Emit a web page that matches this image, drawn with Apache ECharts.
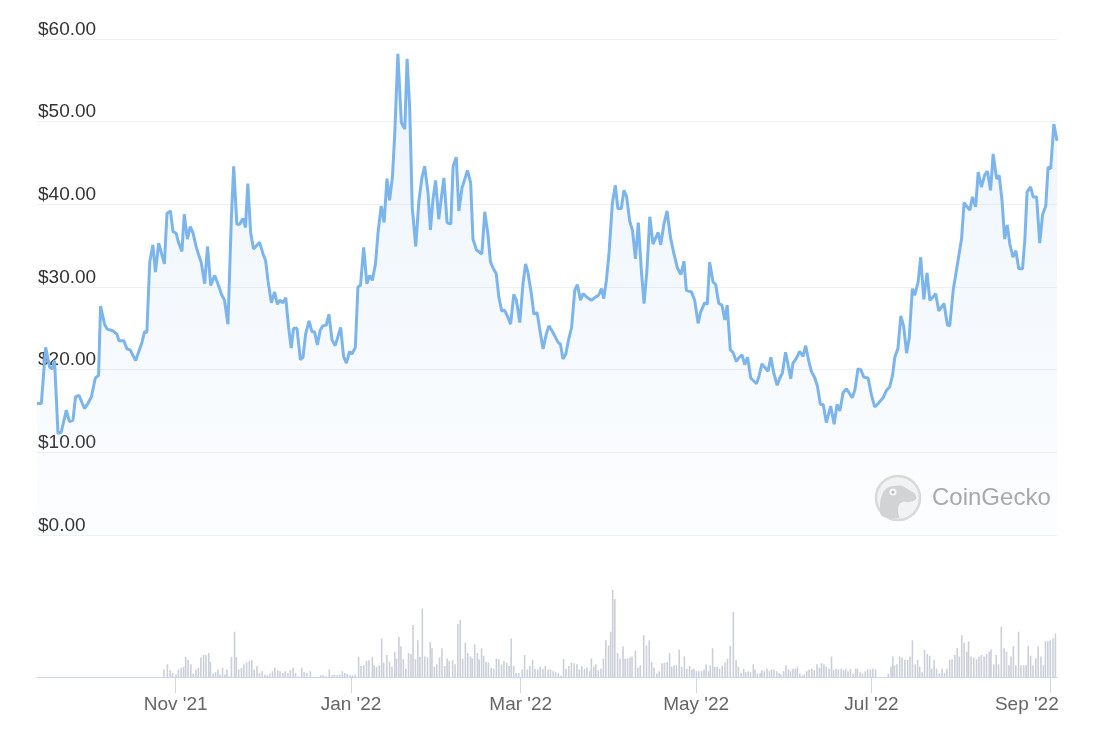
<!DOCTYPE html>
<html><head><meta charset="utf-8">
<script src="https://cdn.jsdelivr.net/npm/echarts@6/dist/echarts.min.js"></script>
<style>html,body{margin:0;padding:0;background:#fff}#c{width:1098px;height:741px}</style>
</head><body><div id="c"></div>
<script>
// day offsets are counted from this date
const baseDate = '2021-11-01';

const priceDays = [
-48.2,-46.7,-45.2,-43.8,-42.9,-42.1,-40.9,-39.8,-38.0,-36.9,-35.7,-34.8,-33.6,-31.7,-30.5,-29.3,-28.8,-27.9,-26.8,-26.1,-24.7,-23.8,-21.8,-20.4,-19.7,-18.0,-16.9,-15.8,-13.9,-12.5,-11.7,-10.8,-10.0,-9.0,-7.9,-7.0,-5.9,-5.0,-3.9,-3.0,-1.8,-0.9,0.2,1.0,2.2,3.0,4.1,5.1,6.0,7.2,8.1,8.9,10.1,11.1,12.2,13.6,14.7,16.1,17.0,18.2,19.4,20.2,21.3,22.3,
23.4,24.3,25.1,26.1,27.1,29.2,30.4,31.3,32.1,33.3,34.4,35.4,36.2,37.3,38.3,39.3,40.2,41.0,42.2,43.4,44.3,45.2,46.4,47.4,48.3,49.3,50.3,51.2,52.4,53.3,54.4,55.5,57.4,58.4,59.4,60.5,61.3,62.5,63.4,64.3,65.4,66.5,67.5,68.4,69.5,70.4,71.5,72.5,73.5,74.4,75.4,76.2,77.3,78.5,79.7,80.5,81.4,82.3,83.5,84.6,85.7,86.6,87.8,88.6,89.5,90.4,91.5,92.6,
93.3,94.4,95.7,96.5,97.6,98.5,99.6,101.5,102.6,103.4,104.6,106.5,107.5,108.6,109.5,110.4,111.5,112.4,113.4,114.4,115.6,116.5,117.6,118.5,119.7,120.8,121.7,122.5,123.7,124.6,125.7,126.9,127.8,128.9,129.8,130.9,132.1,133.0,133.8,134.7,135.7,136.7,137.7,138.8,139.7,140.8,141.7,142.9,144.6,146.1,147.1,148.1,148.9,149.8,150.7,151.9,152.9,153.8,155.0,155.9,156.8,157.9,158.9,159.9,160.9,162.0,162.9,163.9,164.9,
166.0,167.8,168.7,169.8,170.9,172.1,173.3,174.5,175.7,176.8,177.6,179.4,180.5,181.7,182.6,184.0,184.9,185.7,186.9,187.8,188.9,190.0,191.0,191.8,192.9,193.8,195.0,196.0,197.0,197.9,198.9,200.0,202.0,202.8,203.9,205.1,206.0,207.0,208.0,209.2,210.1,211.0,212.1,213.0,213.9,214.7,215.9,217.0,218.2,219.1,220.2,221.1,222.3,223.2,224.2,225.2,226.3,227.8,229.0,230.0,231.0,232.1,233.3,
235.3,236.2,237.3,238.3,239.3,240.8,242.0,243.1,244.3,246.0,247.2,248.3,249.3,250.1,251.2,252.2,253.2,254.2,255.1,256.2,257.0,258.2,259.1,260.2,261.3,262.3,263.4,264.3,265.4,267.2,268.4,269.2,270.4,271.7,273.3,274.2,275.0,276.2,277.1,278.2,279.1,280.2,281.4,282.3,283.4,284.3,285.5,286.4,287.4,288.3,289.2,290.1,291.2,292.2,293.2,294.5,295.3,296.1,297.3,298.2,299.4,300.5,301.5,302.6,303.4,304.3,305.4,306.5
];

const prices = [
15.9,15.9,22.7,20.3,20.1,21.1,12.3,12.4,15.1,13.7,13.9,16.7,16.9,15.3,15.9,16.7,16.7,19.0,19.3,27.7,25.5,24.9,24.7,24.3,23.5,23.5,22.5,22.4,21.1,22.5,23.3,24.6,24.5,33.0,35.1,31.8,35.3,34.2,32.8,38.9,39.2,36.7,36.5,35.4,34.3,38.8,35.8,37.3,36.6,34.8,33.8,33.0,30.4,34.9,30.2,31.4,30.4,29.0,28.4,25.5,38.4,44.6,37.6,37.6,
38.3,37.2,42.5,36.6,34.6,35.4,34.0,33.2,30.8,28.1,29.4,27.9,28.4,28.1,28.7,25.1,22.6,25.0,25.0,21.2,21.5,24.3,25.9,24.6,24.6,23.0,24.8,25.3,25.4,26.7,23.6,22.9,25.1,21.6,20.8,22.2,21.9,22.7,30.0,30.2,34.8,30.4,31.4,30.8,32.8,36.6,39.8,37.8,43.1,40.5,43.3,48.5,58.2,49.9,49.1,57.6,51.7,39.6,34.9,40.4,43.3,44.6,41.3,36.9,40.6,42.9,38.2,41.3,
43.2,37.8,37.6,44.6,45.7,39.2,42.0,44.1,42.6,35.8,34.5,34.0,39.1,36.4,33.0,32.3,31.6,28.8,27.1,27.2,26.3,25.5,29.1,28.4,25.7,30.4,32.8,31.8,29.2,26.7,26.9,24.3,22.5,24.3,25.3,24.7,23.9,23.3,23.1,21.3,21.9,23.7,25.1,29.6,30.3,28.4,29.2,28.8,28.4,28.8,29.0,29.8,28.6,30.8,34.0,40.2,42.3,39.5,39.5,41.7,41.0,38.0,36.8,33.4,37.8,31.8,28.0,32.0,38.5,
35.2,36.6,35.1,37.6,39.2,36.0,34.0,32.3,31.5,33.1,29.6,29.4,28.4,25.6,27.0,28.1,27.9,33.0,30.6,30.3,28.0,27.8,26.0,27.8,22.4,22.1,21.0,21.5,21.8,20.6,21.5,19.0,18.3,19.1,20.7,20.2,19.8,21.5,19.6,18.1,19.0,19.6,22.1,20.6,18.9,20.8,21.4,22.2,21.6,22.9,21.0,19.8,19.0,18.0,15.8,15.8,13.6,15.6,13.4,15.8,15.0,17.2,17.7,
16.6,17.5,20.1,20.0,19.1,19.0,16.9,15.5,15.9,16.6,17.5,17.9,19.3,21.5,22.6,26.5,25.2,22.0,23.8,29.8,29.0,30.6,33.6,28.5,31.7,28.4,28.8,29.2,27.1,28.0,25.4,25.3,29.6,32.4,35.8,40.2,39.8,39.3,40.9,39.7,43.9,42.1,43.6,44.0,41.7,46.1,43.1,43.5,40.4,35.8,37.5,35.2,33.6,34.4,32.2,32.2,35.6,41.5,42.1,40.9,40.9,35.3,38.8,39.8,44.5,44.3,49.7,47.7
];

// [day offset, volume (relative units)]
const volumePoints = [
[-4.06,22],[-2.86,37],[-1.90,20],[-1.06,12],[0.14,7],[0.97,22],[1.93,27],[2.77,30],[3.49,59],[4.33,50],[5.29,37],[6.13,10],[7.08,22],[7.92,27],[8.76,57],[9.72,64],[10.56,64],[11.52,70],[12.12,44],[13.07,10],[13.91,14],[14.75,22],[15.47,7],[16.31,27],[17.15,7],[17.87,22],[18.70,2],[19.42,59],[20.50,132],[21.10,59],[21.94,22],[22.90,27],[23.74,37],[24.69,42],[25.65,47],[26.49,49],[27.33,22],[28.29,32],[29.13,12],[30.09,17],[31.04,7],[31.88,5],[32.72,10],[33.68,17],[34.52,27],[35.48,20],[36.31,17],[37.27,12],[38.11,17],[39.07,12],[39.91,20],[40.87,27],[41.71,12],[42.66,2],[43.86,27],[44.70,14],[45.66,12],[46.86,17],
[50.45,5],[51.29,5],[52.25,2],[53.45,22],[54.40,5],[55.24,7],[56.20,5],[57.04,7],[58.00,17],[58.84,12],[59.68,9],[60.63,5],[61.47,5],[62.43,7],[63.63,59],[64.47,32],[65.43,34],[66.38,47],[67.22,49],[68.42,59],[69.02,34],[69.86,30],[70.82,34],[71.66,112],[72.37,42],[73.45,64],[74.41,44],[75.25,30],[76.21,74],[76.81,54],[77.65,117],[78.36,90],[79.20,52],[80.04,24],[81.00,70],[81.84,67],[82.56,152],[83.40,52],[84.23,107],[84.95,59],[85.79,200],[86.63,60],[87.59,57],[88.55,102],[89.15,84],[89.99,30],[90.82,37],[91.78,57],[92.62,84],[93.58,32],[94.42,54],[95.14,47],[96.33,49],[97.17,37],[98.13,154],[98.97,167],[99.81,54],[100.77,100],[101.61,70],[102.56,60],[103.16,54],[104.00,95],[104.96,70],[105.56,52],[106.40,84],[107.12,62],[107.96,44],[108.79,42],[109.75,27],[110.59,24],[111.55,54],[112.39,52],[113.35,37],[114.18,47],[115.14,42],[115.98,32],[116.70,112],[117.54,32],[118.38,12],[119.34,12],[120.53,22],[121.37,64],[122.33,22],[123.17,32],[124.13,50],[124.97,24],[125.92,22],[126.76,30],[127.72,24],[128.56,32],[129.52,22],[130.36,22],[131.32,17],[132.15,14],[133.11,12],[133.95,4],[134.91,52],[135.75,24],[136.71,32],
[137.63,42],[138.59,40],[139.55,37],[140.39,22],[141.23,32],[142.18,24],[143.02,27],[143.98,17],[144.58,54],[145.42,30],[146.14,37],[146.98,20],[147.93,24],[148.77,54],[149.61,107],[150.57,92],[151.29,132],[152.01,254],[152.73,227],[153.68,70],[154.52,54],[155.60,90],[156.32,54],[157.16,54],[158.00,57],[158.72,60],[159.91,77],[160.75,27],[161.59,34],[162.79,122],[163.75,92],[164.71,107],[165.55,44],[166.38,27],[167.34,10],[168.18,17],[169.14,40],[169.98,42],[170.94,44],[171.77,70],[172.49,30],[173.33,34],[174.17,34],[175.13,80],[175.97,30],[176.93,60],[177.76,24],[178.72,32],[179.56,22],[180.28,24],[181.12,17],[181.96,17],[182.92,17],[183.75,22],[184.47,37],[185.31,17],[185.91,34],[186.75,84],[187.47,30],[188.31,30],[189.15,24],[190.10,32],[191.06,42],[191.90,54],[192.86,90],[193.94,190],[194.90,50],[195.73,30],[196.69,12],[197.53,24],[198.25,14],[199.09,17],[199.93,14],[200.89,37],[201.49,22],[202.32,10],[203.28,12],[203.88,20],[204.72,17],[205.68,24],[206.52,17],[207.24,22],[208.07,22],[209.03,17],[209.87,12],[210.47,7],[211.43,17],[212.27,34],[213.11,22],[213.82,17],[214.66,24],[215.50,24],[216.22,30],[217.06,10],[217.90,4],[218.62,7],[219.46,17],[220.29,22],[221.25,24],[222.09,20],[223.05,37],[223.89,27],[224.61,40],[225.45,37],[226.28,30],[227.24,24],[228.08,60],[228.80,20],[229.64,24],[230.48,22],[231.44,24],[232.27,20],[232.99,24],[233.83,17],[234.67,24],[235.63,10],[236.47,24],[237.07,24],[238.02,14],[238.86,10],[239.82,17],[240.66,22],[241.62,22],[242.46,24],[243.42,22],
[247.85,10],[248.81,30],[249.41,60],[250.00,34],[250.84,37],[251.80,60],[252.64,57],[253.60,50],[254.56,50],[255.40,60],[256.23,107],[257.19,37],[258.03,50],[258.75,30],[259.59,14],[260.43,80],[261.39,67],[262.22,62],[262.94,24],[263.78,50],[264.62,24],[265.58,10],[266.54,24],[267.38,12],[268.21,24],[269.17,50],[270.01,52],[270.97,64],[271.81,84],[272.53,60],[273.37,122],[274.20,100],[275.16,74],[275.76,104],[276.60,60],[277.56,57],[278.52,52],[279.35,60],[280.19,64],[281.15,60],[281.99,67],[282.95,74],[283.55,80],[284.51,37],[285.35,64],[286.18,37],[287.14,147],[288.10,84],[288.94,74],[289.78,34],[290.50,60],[291.34,90],[292.17,34],[293.13,132],[293.97,34],[294.93,34],[295.77,34],[296.49,90],[297.33,62],[298.16,34],[299.12,54],[299.96,90],[300.92,60],[301.76,34],[302.48,104],[303.31,104],[304.15,107],[305.11,112],[305.95,127]
];

const tickDates = ['2021-11-01','2022-01-01','2022-03-01','2022-05-01','2022-07-01','2022-09-01'];
const tickLabels = ["Nov '21","Jan '22","Mar '22","May '22","Jul '22","Sep '22"];
const priceAxis = {min: 0, max: 60, step: 10};
const volumeAxisMax = 280;

const DAY = 86400000;
const base = Date.parse(baseDate + 'T00:00:00Z');
const toTime = d => base + d * DAY;
const priceData = priceDays.map((d, i) => [toTime(d), prices[i]]);
const volData = volumePoints.map(p => [toTime(p[0]), p[1]]);
const tickTimes = tickDates.map(s => Date.parse(s + 'T00:00:00Z'));
const xMin = toTime(priceDays[0]);
const xMax = toTime(priceDays[priceDays.length - 1]);
const FONT = '"Liberation Sans", Arial, sans-serif';

const chart = echarts.init(document.getElementById('c'), null, {renderer: 'canvas'});
chart.setOption({
  animation: false,
  backgroundColor: '#fff',
  grid: [
    {left: 37, right: 41, top: 39, bottom: 206},
    {left: 37, right: 41, top: 581, bottom: 64}
  ],
  xAxis: [
    {type: 'value', gridIndex: 0, min: xMin, max: xMax, show: false, splitLine: {show: false}},
    {type: 'value', gridIndex: 1, min: xMin, max: xMax,
      axisLine: {show: true, onZero: false, lineStyle: {color: '#ccd6eb', width: 1}},
      axisTick: {show: true, customValues: tickTimes, length: 16, lineStyle: {color: '#ccd6eb', width: 1}},
      axisLabel: {
        customValues: tickTimes,
        color: '#666', fontSize: 19, fontFamily: FONT, margin: 18,
        formatter: function (v) {
          const i = tickTimes.indexOf(v);
          if (i < 0) return '';
          if (i === tickTimes.length - 1) return '{s|' + tickLabels[i] + '}';
          return tickLabels[i];
        },
        rich: {s: {padding: [0, 46, 0, 0], color: '#666', fontSize: 19, fontFamily: FONT}}
      },
      splitLine: {show: false}
    }
  ],
  yAxis: [
    {type: 'value', gridIndex: 0, min: priceAxis.min, max: priceAxis.max, interval: priceAxis.step,
      axisLine: {show: false}, axisTick: {show: false},
      splitLine: {lineStyle: {color: '#eef0f3', width: 1}},
      axisLabel: {inside: true, margin: 1, verticalAlign: 'bottom', align: 'left',
        color: '#333', fontSize: 19, fontFamily: FONT,
        formatter: v => '$' + v.toFixed(2)}
    },
    {type: 'value', gridIndex: 1, min: 0, max: volumeAxisMax, show: false, splitLine: {show: false}}
  ],
  graphic: [
    {type: 'circle', shape: {cx: 898, cy: 498, r: 22}, style: {fill: '#f4f4f4', stroke: '#dadada', lineWidth: 2.5}, z: 1},
    {type: 'polygon', shape: {smooth: 0.35, points: [[882,516],[880,505],[882,495],[887,488],[894,486],[902,486],[909,490],[915,494],[916,499],[910,502],[903,502],[899,505],[898,512],[899,518]]},
      style: {fill: '#d4d4d4'}, z: 1},
    {type: 'circle', shape: {cx: 893, cy: 492, r: 3.5}, style: {fill: '#fafafa'}, z: 2},
    {type: 'circle', shape: {cx: 893, cy: 492, r: 1.6}, style: {fill: '#bbb'}, z: 2},
    {type: 'text', x: 932, y: 498, style: {text: 'CoinGecko', fill: '#a9a9a9', font: '24px ' + FONT, verticalAlign: 'middle'}, z: 1}
  ],
  series: [
    {type: 'line', xAxisIndex: 0, yAxisIndex: 0, data: priceData, showSymbol: false, smooth: false,
      lineStyle: {color: '#7cb5ec', width: 3},
      itemStyle: {color: '#7cb5ec'},
      areaStyle: {color: new echarts.graphic.LinearGradient(0, 0, 0, 1, [
        {offset: 0, color: 'rgba(124,181,236,0.20)'},
        {offset: 1, color: 'rgba(124,181,236,0.03)'}
      ])},
      z: 3
    },
    {type: 'bar', xAxisIndex: 1, yAxisIndex: 1, data: volData, barWidth: 1.6,
      itemStyle: {color: '#cbcfd8'}, z: 2}
  ]
});
</script>
</body></html>
